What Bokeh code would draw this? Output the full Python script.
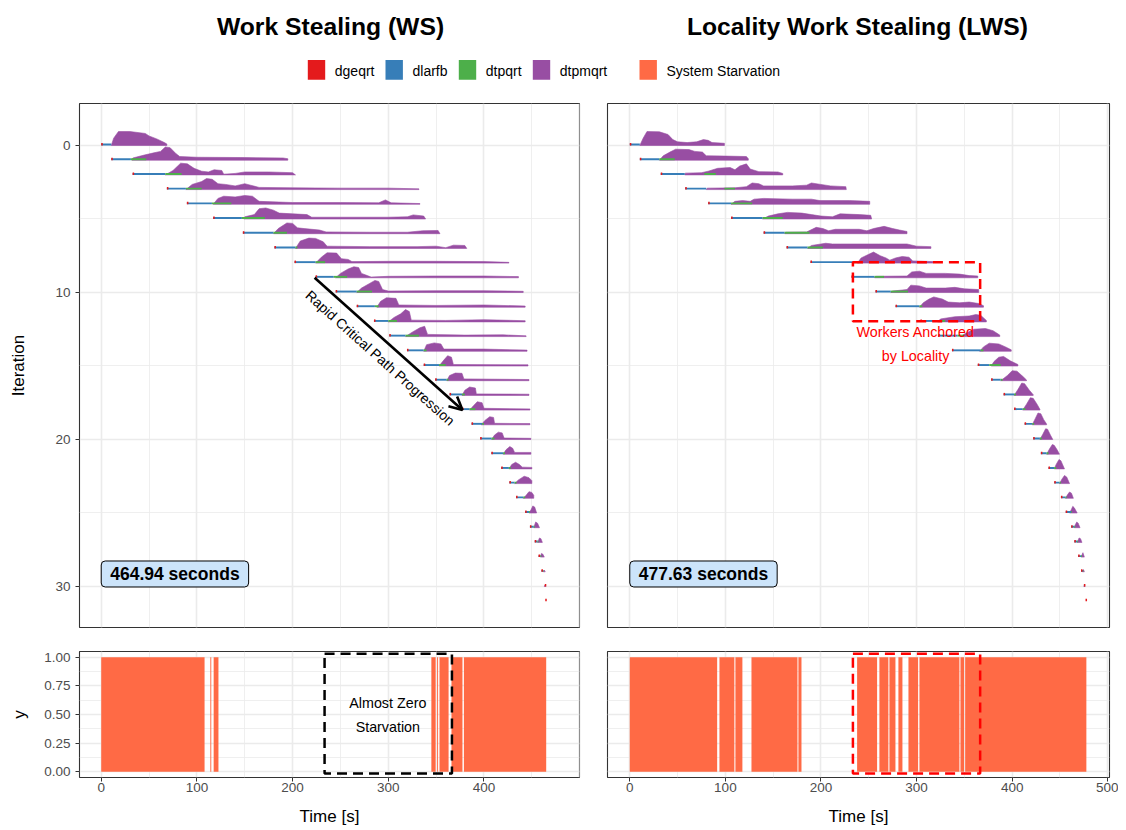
from bokeh.plotting import figure
from bokeh.layouts import column, row
from bokeh.models import Range1d, FixedTicker, Grid, Label, Arrow, OpenHead, NumeralTickFormatter
from bokeh.core.properties import value
from bokeh.embed import file_html
from bokeh.resources import INLINE

FONT = "Liberation Sans"
KERNEL_NAMES = ["dgeqrt", "dlarfb", "dtpqrt", "dtpmqrt"]
KERNEL_COLORS = ["#E41A1C", "#377EB8", "#4DAF4A", "#984EA3"]
STARV_NAME = "System Starvation"
STARV_COLOR = "#FF6A45"

# ---------------- Work Stealing (WS) ----------------
ws_total = "464.94 seconds"
ws_red = [0, 10.5, 32.8, 68.6, 89.5, 117, 148, 181, 202, 224, 245, 267, 285, 301, 319.5, 337,
          349, 364, 377, 387, 396, 407.7, 418, 426.5, 433.5, 443, 448, 453, 457, 460, 463.5, 464]
ws_blue_end = [10.5, 31, 67, 88.5, 115.7, 147, 180, 203, 224, 243, 267, 286, 300, 318, 337, 353,
               361, 377, 385, 398, 408, 420, 426, 432, 441, 447, 452, 456, 459, 462, 463.5, 464]
ws_green_end = [10.5, 47, 84, 105, 136, 171, 194, 205, 234, 257, 283, 290, 309, 332, 340, 360,
                363, 380, 391, 400, 411, 422, 428, 434, 443, 448, 453, 457, 460, 462.5, 463.5, 464]
ws_dtpmqrt = [
    [(10.5, 0), (13, 0.5), (18, 0.95), (30, 0.95), (46, 0.82), (50, 0.65), (58, 0.45), (66, 0.2), (68.6, 0.1), (68.6, 0)],
    [(32, 0), (33, 0.15), (45, 0.35), (55, 0.5), (62, 0.6), (67, 0.9), (72, 0.85), (78, 0.45), (82, 0.25), (100, 0.2), (150, 0.18), (190, 0.15), (195, 0.1), (195, 0)],
    [(67, 0), (75, 0.3), (83, 0.8), (90, 0.75), (97, 0.45), (105, 0.25), (112, 0.2), (118, 0.35), (126, 0.3), (128, 0.05), (140, 0.1), (150, 0.2), (175, 0.2), (200, 0.15), (203, 0)],
    [(88.5, 0), (95, 0.35), (105, 0.55), (110, 0.75), (116, 0.7), (122, 0.4), (130, 0.35), (140, 0.25), (150, 0.4), (156, 0.3), (165, 0.15), (200, 0.12), (250, 0.1), (300, 0.1), (332, 0.05), (332, 0)],
    [(117, 0), (122, 0.4), (128, 0.55), (140, 0.5), (150, 0.6), (158, 0.55), (165, 0.2), (200, 0.12), (250, 0.12), (290, 0.1), (297, 0.3), (303, 0.1), (333, 0.05), (333, 0)],
    [(149, 0), (150, 0.15), (160, 0.3), (165, 0.7), (172, 0.75), (180, 0.6), (186, 0.4), (200, 0.35), (215, 0.3), (220, 0.12), (250, 0.12), (300, 0.12), (320, 0.15), (326, 0.28), (337, 0.2), (339, 0)],
    [(180, 0), (185, 0.35), (194, 0.73), (200, 0.7), (205, 0.4), (212, 0.35), (228, 0.25), (235, 0.12), (280, 0.1), (320, 0.1), (336, 0.2), (352, 0.22), (354, 0)],
    [(203, 0), (208, 0.5), (217, 0.7), (224, 0.68), (232, 0.45), (236, 0.15), (280, 0.12), (330, 0.12), (350, 0.15), (360, 0.05), (368, 0.22), (380, 0.2), (382, 0)],
    [(224, 0), (230, 0.4), (236, 0.7), (246, 0.68), (251, 0.3), (258, 0.25), (262, 0.1), (300, 0.12), (350, 0.12), (400, 0.1), (426, 0.05), (426, 0)],
    [(245, 0), (250, 0.3), (258, 0.6), (264, 0.75), (269, 0.7), (272, 0.3), (278, 0.15), (282, 0.05), (300, 0.1), (350, 0.12), (400, 0.12), (436, 0.08), (436, 0)],
    [(267, 0), (272, 0.3), (280, 0.6), (286, 0.82), (290, 0.75), (294, 0.2), (300, 0.1), (350, 0.12), (400, 0.12), (441, 0.08), (441, 0)],
    [(288, 0), (292, 0.4), (298, 0.64), (308, 0.6), (311, 0.15), (350, 0.12), (400, 0.15), (443, 0.08), (443, 0)],
    [(300, 0), (306, 0.3), (313, 0.55), (318, 0.84), (322, 0.7), (324, 0.12), (360, 0.1), (400, 0.15), (443, 0.08), (443, 0)],
    [(318, 0), (325, 0.3), (333, 0.6), (338, 0.7), (341, 0.15), (380, 0.1), (420, 0.12), (444, 0.05), (444, 0)],
    [(337, 0), (340, 0.45), (348, 0.57), (355, 0.5), (358, 0.15), (400, 0.15), (445, 0.08), (445, 0)],
    [(353, 0), (358, 0.4), (362, 0.7), (366, 0.6), (368, 0.1), (446, 0.08), (446, 0)],
    [(361, 0), (364, 0.35), (370, 0.52), (377, 0.5), (379, 0.12), (447, 0.08), (447, 0)],
    [(377, 0), (380, 0.35), (385, 0.57), (391, 0.5), (392, 0.1), (447, 0.08), (447, 0)],
    [(385, 0), (389, 0.3), (393, 0.57), (398, 0.5), (400, 0.12), (448, 0.08), (448, 0)],
    [(397, 0), (401, 0.3), (406, 0.55), (410, 0.5), (411, 0.1), (448, 0.08), (448, 0)],
    [(408, 0), (411, 0.3), (415, 0.5), (419, 0.45), (421, 0.1), (449, 0.08), (449, 0)],
    [(420, 0), (423, 0.3), (427, 0.52), (430, 0.4), (432, 0.12), (449, 0.12), (449, 0)],
    [(426, 0), (429, 0.3), (433, 0.45), (437, 0.3), (440, 0.12), (450, 0.1), (450, 0)],
    [(432, 0), (436, 0.25), (442, 0.5), (447, 0.4), (450, 0.2), (450, 0)],
    [(441, 0), (444, 0.2), (447, 0.45), (450, 0.4), (452, 0.2), (452, 0)],
    [(447, 0), (449, 0.2), (451, 0.48), (453, 0.4), (455, 0)],
    [(452, 0), (453, 0.2), (454, 0.39), (456, 0.3), (458, 0)],
    [(456, 0), (457, 0.15), (458, 0.3), (459.5, 0.25), (461, 0)],
    [(459, 0), (460, 0.25), (461.5, 0.2), (463, 0)],
    [(462, 0), (463, 0.12), (464, 0)],
    [(463, 0), (463.5, 0.08), (464.5, 0)],
    [],
]
ws_starv_start = [0, 114, 117.5, 345, 351, 353.5, 366, 379]
ws_starv_end = [108, 115, 122.5, 349.5, 352, 363, 377.5, 465]

# ---------------- Locality Work Stealing (LWS) ----------------
lws_total = "477.63 seconds"
lws_red = [0, 10.5, 32.4, 58, 82, 106, 140, 164, 189, 232, 257, 278, 304, 323, 337, 364,
           378, 391, 402, 413, 422, 430, 438, 444, 451, 456, 461.7, 465, 469, 472, 475, 476.7]
lws_blue_end = [10.5, 31, 57.5, 80, 106, 139, 162, 186, 234, 256, 273, 303, 322, 343, 367, 376,
                388, 402, 411, 421, 429, 436, 444, 449.5, 455.7, 461.7, 465, 468, 472, 474, 475.5, 476.7]
lws_green_start = [10.5, 31, 78, 99, 106, 139, 162, 186, 234, 256, 273, 303, 322, 343, 367, 376,
                   388, 402, 411, 421, 429, 436, 444, 449.5, 455.7, 461.7, 465, 468, 472, 474, 475.5, 476.7]
lws_green_end = [10.5, 47, 90, 110, 128, 160, 188, 202, 240, 266, 291, 306, 330, 350, 370, 388,
                 390, 404, 414, 423, 431, 438, 446, 451, 457, 462.5, 466, 469, 473, 474.5, 475.5, 476.7]
lws_dtpmqrt = [
    [(10.5, 0), (14, 0.5), (18, 0.95), (31, 0.93), (40, 0.75), (45, 0.4), (50, 0.25), (60, 0.2), (70, 0.25), (77, 0.4), (82, 0.35), (86, 0.2), (99, 0.15), (99, 0)],
    [(31, 0), (35, 0.3), (42, 0.55), (48, 0.75), (62, 0.72), (68, 0.6), (76, 0.55), (80, 0.3), (100, 0.28), (122, 0.25), (124, 0.1), (124, 0)],
    [(57.5, 0), (58, 0.12), (75, 0.15), (82, 0.25), (92, 0.45), (105, 0.5), (110, 0.35), (115, 0.6), (122, 0.75), (126, 0.4), (135, 0.22), (155, 0.2), (160, 0.1), (160, 0)],
    [(80, 0), (81, 0.1), (110, 0.12), (122, 0.2), (128, 0.45), (135, 0.4), (140, 0.25), (170, 0.25), (185, 0.3), (190, 0.45), (200, 0.35), (210, 0.25), (226, 0.2), (226.5, 0)],
    [(106, 0), (110, 0.2), (118, 0.25), (126, 0.2), (130, 0.35), (140, 0.4), (170, 0.35), (190, 0.35), (199, 0.25), (230, 0.25), (251, 0.2), (251, 0)],
    [(139, 0), (145, 0.2), (155, 0.35), (165, 0.45), (180, 0.4), (190, 0.3), (200, 0.2), (212, 0.15), (220, 0.35), (240, 0.3), (252, 0.25), (253, 0)],
    [(162, 0), (163, 0.1), (185, 0.12), (195, 0.43), (202, 0.35), (208, 0.2), (215, 0.3), (240, 0.3), (248, 0.2), (255, 0.35), (266, 0.5), (275, 0.35), (282, 0.25), (290, 0.15), (290, 0)],
    [(186, 0), (190, 0.2), (205, 0.35), (212, 0.3), (220, 0.3), (260, 0.3), (290, 0.3), (300, 0.15), (315, 0.12), (315, 0)],
    [(238, 0), (242, 0.35), (250, 0.6), (255, 0.75), (262, 0.5), (268, 0.35), (272, 0.2), (278, 0.35), (285, 0.45), (292, 0.4), (296, 0.15), (317, 0.1), (317, 0)],
    [(256, 0), (257, 0.1), (290, 0.12), (295, 0.4), (303, 0.45), (310, 0.3), (330, 0.3), (345, 0.25), (355, 0.15), (364, 0.12), (364, 0)],
    [(273, 0), (275, 0.1), (290, 0.2), (294, 0.5), (303, 0.45), (310, 0.3), (330, 0.3), (340, 0.35), (350, 0.25), (365, 0.2), (365, 0)],
    [(303, 0), (307, 0.3), (313, 0.55), (318, 0.7), (327, 0.55), (333, 0.35), (345, 0.3), (355, 0.35), (365, 0.25), (370, 0.1), (370, 0)],
    [(322, 0), (325, 0.2), (340, 0.35), (355, 0.4), (362, 0.5), (367, 0.45), (373, 0.1), (373, 0)],
    [(346, 0), (352, 0.25), (360, 0.5), (372, 0.55), (380, 0.4), (387, 0.1), (387, 0)],
    [(366, 0), (370, 0.3), (376, 0.55), (386, 0.5), (393, 0.3), (399, 0.1), (399, 0)],
    [(378, 0), (381, 0.3), (386, 0.6), (391, 0.65), (398, 0.35), (406, 0.1), (406, 0)],
    [(388, 0), (395, 0.35), (400, 0.68), (405, 0.65), (411, 0.3), (415, 0.05), (415, 0)],
    [(402, 0), (406, 0.4), (410, 0.84), (413, 0.8), (418, 0.35), (422, 0.05), (422, 0)],
    [(411, 0), (415, 0.4), (419, 0.84), (422, 0.8), (426, 0.4), (429, 0.05), (429, 0)],
    [(421, 0), (424, 0.4), (427, 0.8), (430, 0.75), (433, 0.35), (436, 0.05), (436, 0)],
    [(429, 0), (432, 0.35), (435, 0.73), (437, 0.7), (440, 0.3), (442.5, 0)],
    [(436, 0), (439, 0.35), (442, 0.66), (444, 0.6), (447, 0.3), (449.5, 0)],
    [(444, 0), (446, 0.3), (449, 0.64), (451, 0.55), (454.7, 0)],
    [(449.5, 0), (452, 0.3), (454.7, 0.55), (457, 0.45), (460, 0)],
    [(455.7, 0), (458, 0.25), (460, 0.43), (462, 0.35), (464, 0)],
    [(460, 0), (462, 0.25), (463.4, 0.45), (465, 0.35), (468, 0)],
    [(465, 0), (466, 0.2), (467.6, 0.39), (469, 0.3), (471, 0)],
    [(468, 0), (469, 0.15), (470, 0.3), (471.5, 0.25), (473, 0)],
    [(472, 0), (473, 0.15), (474, 0.3), (475.5, 0)],
    [(473.5, 0), (474.6, 0.15), (475.5, 0)],
    [(475, 0), (475.6, 0.08), (476.2, 0)],
    [],
]
lws_starv_start = [0, 93.8, 110.5, 127.3, 176.4, 237.8, 261.1, 271.6, 281, 291.5, 303, 345.9, 350.8]
lws_starv_end = [91.4, 109.4, 117.8, 175.4, 179.6, 258.7, 270.5, 277.9, 285.2, 301.6, 344.8, 349.7, 477.6]

# annotations (time window / iterations)
ws_arrow = (223, 9, 377.5, 18)
ws_arrow_text = "Rapid Critical Path Progression"
ws_box_text = "Almost Zero\nStarvation"
lws_box_text = "Workers Anchored\nby Locality"
window = (233.4, 366.5)
lws_iter_window = (7.95, 11.95)

X_TICKS = [0, 100, 200, 300, 400, 500]
X_MINOR = [50, 150, 250, 350, 450]
IT_TICKS = [0, 10, 20, 30]
IT_MINOR = [5, 15, 25]
Y_TICKS = [0, 0.25, 0.5, 0.75, 1.0]
Y_MINOR = [0.125, 0.375, 0.625, 0.875]

GRID = "#EBEBEB"
ANN_SIZE = "14.3px"


def base_fig(width, height, xr, yr, ml, mr, mt, mb, xloc, yloc):
    p = figure(width=width, height=height, x_range=Range1d(*xr), y_range=Range1d(*yr),
               x_axis_location=xloc, y_axis_location=yloc, toolbar_location=None,
               output_backend="svg", min_border_left=ml, min_border_right=mr,
               min_border_top=mt, min_border_bottom=mb)
    p.outline_line_color = "#333333"
    p.outline_line_width = 1.1
    p.xgrid.visible = False
    p.ygrid.visible = False
    return p


def add_grids(p, xmaj, xmin, ymaj, ymin):
    p.add_layout(Grid(dimension=0, ticker=FixedTicker(ticks=xmin), grid_line_color=GRID, grid_line_width=0.8))
    p.add_layout(Grid(dimension=1, ticker=FixedTicker(ticks=ymin), grid_line_color=GRID, grid_line_width=0.8))
    p.add_layout(Grid(dimension=0, ticker=FixedTicker(ticks=xmaj), grid_line_color=GRID, grid_line_width=1.6))
    p.add_layout(Grid(dimension=1, ticker=FixedTicker(ticks=ymaj), grid_line_color=GRID, grid_line_width=1.6))


def style_axis(ax, ticks, label, standoff):
    ax.ticker = FixedTicker(ticks=ticks, minor_ticks=[])
    ax.axis_line_color = None
    ax.major_tick_line_color = "#333333"
    ax.major_tick_out = 4
    ax.major_tick_in = 0
    ax.minor_tick_line_color = None
    ax.major_label_text_font = FONT
    ax.major_label_text_font_size = "13.5px"
    ax.major_label_text_color = "#4D4D4D"
    ax.major_label_standoff = 5
    ax.axis_label = label
    ax.axis_label_text_font = FONT
    ax.axis_label_text_font_size = "17px"
    ax.axis_label_text_font_style = "normal"
    ax.axis_label_text_color = "black"
    ax.axis_label_standoff = standoff


def draw_ridges(p, profiles, red, blue_end, g_start, g_end):
    xs, ys = [], []
    for i, prof in enumerate(profiles):
        if not prof:
            continue
        xs.append([pt[0] for pt in prof])
        ys.append([i - pt[1] for pt in prof])
    p.patches(xs, ys, fill_color=KERNEL_COLORS[3], line_color=KERNEL_COLORS[3], line_width=0.6)
    rows = list(range(len(red)))
    tops = [r - 0.13 for r in rows]
    p.quad(left=red, right=blue_end, top=tops, bottom=rows, fill_color=KERNEL_COLORS[1], line_color=None)
    p.quad(left=g_start, right=g_end, top=tops, bottom=rows, fill_color=KERNEL_COLORS[2], line_color=None)
    p.quad(left=red, right=[r + 1.6 for r in red], top=[r - 0.17 for r in rows], bottom=rows,
           fill_color=KERNEL_COLORS[0], line_color=None)


def total_label(p, text):
    p.add_layout(Label(x=0, y=29.15, text=text, text_align="left", text_baseline="middle",
                       text_font=FONT, text_font_size="17.5px", text_font_style="bold",
                       text_color="black",
                       background_fill_color="#CCE4FA", border_line_color="black",
                       border_line_width=1, padding=(9, 3), border_radius=4))


LX = (-22.7, 499.8)
RX = (-23.3, 501.8)
TOPY = (32.79, -2.857)
BOTY = (-0.05, 1.05)

# ---- top left ----
tl = base_fig(593, 542, LX, TOPY, 79, 14, 8, 10, None, "left")
add_grids(tl, X_TICKS, X_MINOR, IT_TICKS, IT_MINOR)
style_axis(tl.yaxis[0], IT_TICKS, "Iteration", 24)
draw_ridges(tl, ws_dtpmqrt, ws_red, ws_blue_end, ws_blue_end, ws_green_end)
tl.add_layout(Arrow(end=OpenHead(size=13, line_width=2.6, line_color="black"),
                    x_start=ws_arrow[0], y_start=ws_arrow[1], x_end=ws_arrow[2], y_end=ws_arrow[3],
                    line_width=2.6, line_color="black"))
tl.add_layout(Label(x=291.5, y=14.45, text=ws_arrow_text, angle=-0.731, text_align="center",
                    text_baseline="middle", text_font=FONT, text_font_size="14px", text_color="black"))
total_label(tl, ws_total)

# ---- top right ----
tr = base_fig(525, 542, RX, TOPY, 14, 9, 8, 10, None, None)
add_grids(tr, X_TICKS, X_MINOR, IT_TICKS, IT_MINOR)
draw_ridges(tr, lws_dtpmqrt, lws_red, lws_blue_end, lws_green_start, lws_green_end)
tr.quad(left=[window[0]], right=[window[1]], top=[lws_iter_window[0]], bottom=[lws_iter_window[1]],
        fill_color=None, line_color="red", line_width=2.5, line_dash="10 6")
tr.add_layout(Label(x=299, y=13.5, text=lws_box_text, text_align="center", text_baseline="middle",
                    text_font=FONT, text_font_size=ANN_SIZE, text_color="red", text_line_height=1.5))
total_label(tr, lws_total)

# ---- bottom left ----
bl = base_fig(593, 191, LX, BOTY, 79, 14, 14, 49, "below", "left")
add_grids(bl, X_TICKS, X_MINOR, Y_TICKS, Y_MINOR)
style_axis(bl.yaxis[0], Y_TICKS, "y", 12)
bl.yaxis[0].formatter = NumeralTickFormatter(format="0.00")
style_axis(bl.xaxis[0], X_TICKS, "Time [s]", 12)
bl.xaxis[0].major_label_standoff = 1
bl.quad(left=ws_starv_start, right=ws_starv_end, bottom=0, top=1, fill_color=STARV_COLOR, line_color=None)
bl.quad(left=[window[0]], right=[window[1]], bottom=[-0.015], top=[1.03], fill_color=None,
        line_color="black", line_width=2.5, line_dash="10 6")
bl.add_layout(Label(x=299.5, y=0.5, text=ws_box_text, text_align="center", text_baseline="middle",
                    text_font=FONT, text_font_size=ANN_SIZE, text_color="black", text_line_height=1.5))

# ---- bottom right ----
br = base_fig(525, 191, RX, BOTY, 14, 9, 14, 49, "below", None)
add_grids(br, X_TICKS, X_MINOR, Y_TICKS, Y_MINOR)
style_axis(br.xaxis[0], X_TICKS, "Time [s]", 12)
br.xaxis[0].major_label_standoff = 1
br.quad(left=lws_starv_start, right=lws_starv_end, bottom=0, top=1, fill_color=STARV_COLOR, line_color=None)
br.quad(left=[window[0]], right=[window[1]], bottom=[-0.015], top=[1.03], fill_color=None,
        line_color="red", line_width=2.5, line_dash="10 6")

# ---- header: titles + legend (page pixel coordinates) ----
hd = figure(width=1118, height=95, x_range=Range1d(0, 1118), y_range=Range1d(95, 0),
            x_axis_location=None, y_axis_location=None, toolbar_location=None,
            output_backend="svg", min_border=0)
hd.outline_line_color = None
hd.xgrid.visible = False
hd.ygrid.visible = False
hd.text(x=[330, 857], y=[26, 26], text=["Work Stealing (WS)", "Locality Work Stealing (LWS)"],
        text_font=value(FONT), text_font_style="bold", text_font_size="24.7px",
        text_align="center", text_baseline="middle", text_color="black")
leg_names = KERNEL_NAMES + [STARV_NAME]
leg_colors = KERNEL_COLORS + [STARV_COLOR]
key_left = [307.3, 385, 458.3, 532.3, 639]
hd.quad(left=key_left, right=[k + 17.4 for k in key_left], top=[59.5] * 5, bottom=[79.3] * 5,
        fill_color=leg_colors, line_color=None)
hd.text(x=[k + 27 for k in key_left], y=[70] * 5, text=leg_names, text_font=value(FONT),
        text_font_size="14px", text_align="left", text_baseline="middle", text_color="black")

layout = column(hd, row(tl, tr), row(bl, br))
open("out.html", "w").write(file_html(layout, INLINE))
